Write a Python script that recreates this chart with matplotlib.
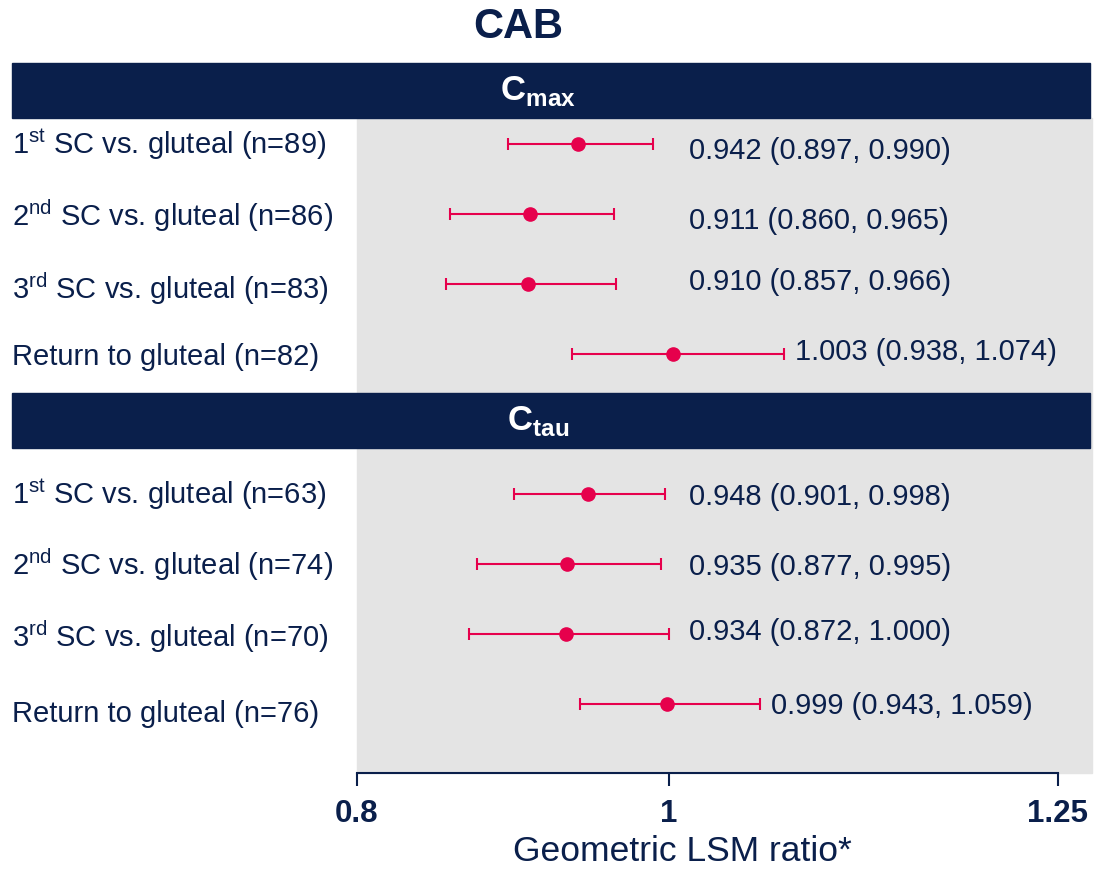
import matplotlib.pyplot as plt
from matplotlib.patches import Rectangle
from matplotlib.transforms import blended_transform_factory

plt.rcParams['font.family'] = ['Liberation Sans', 'DejaVu Sans']
plt.rcParams['mathtext.fontset'] = 'custom'
plt.rcParams['mathtext.rm'] = 'Liberation Sans'
plt.rcParams['mathtext.bf'] = 'Liberation Sans:bold'

# geometric LSM ratios with 90% CI, per comparison
cmax_labels = [r'1$^{\mathrm{st}}$ SC vs. gluteal (n=89)',
               r'2$^{\mathrm{nd}}$ SC vs. gluteal (n=86)',
               r'3$^{\mathrm{rd}}$ SC vs. gluteal (n=83)',
               'Return to gluteal (n=82)']
cmax_ratio = [0.942, 0.911, 0.910, 1.003]
cmax_low = [0.897, 0.860, 0.857, 0.938]
cmax_high = [0.990, 0.965, 0.966, 1.074]

ctau_labels = [r'1$^{\mathrm{st}}$ SC vs. gluteal (n=63)',
               r'2$^{\mathrm{nd}}$ SC vs. gluteal (n=74)',
               r'3$^{\mathrm{rd}}$ SC vs. gluteal (n=70)',
               'Return to gluteal (n=76)']
ctau_ratio = [0.948, 0.935, 0.934, 0.999]
ctau_low = [0.901, 0.877, 0.872, 0.943]
ctau_high = [0.998, 0.995, 1.000, 1.059]

x_ticks = [0.8, 1, 1.25]
x_ticklabels = ['0.8', '1', '1.25']

navy = '#0A1F4B'
red = '#E6004C'
grey = '#E4E4E4'

W, H = 1094, 869
fig = plt.figure(figsize=(W / 100, H / 100), dpi=100)
ax = fig.add_axes([357 / W, 1 - 773 / H, 701 / W, 655 / H])
ax.set_xlim(0.8, 1.25)
ax.set_ylim(8.986, -0.371)
ax.set_facecolor('none')
ax.add_patch(Rectangle((0, 0), (1092 - 357) / 701, 1, transform=ax.transAxes,
                       color=grey, clip_on=False, zorder=0))

# rows 0-3 for Cmax, 5-8 for Ctau (row 4 sits under the second header)
rows = [0, 1, 2, 3, 5, 6, 7, 8]
labels = cmax_labels + ctau_labels
ratio = cmax_ratio + ctau_ratio
low = cmax_low + ctau_low
high = cmax_high + ctau_high

# small nudges so the text sits where it was typeset
label_dy = [0, 0.03, 0.07, 0.04, 0, 0.01, 0.04, 0.14]
value_dy = [0.1, 0.1, -0.03, -0.03, 0.04, 0.04, -0.03, 0.03]

err = [[r - lo for r, lo in zip(ratio, low)], [hi - r for r, hi in zip(ratio, high)]]
ax.errorbar(ratio, rows, xerr=err, fmt='o', color=red, ecolor=red,
            markersize=9.5, elinewidth=1.5, capsize=4.5, capthick=1.5, zorder=3)

lab_tr = blended_transform_factory(fig.transFigure, ax.transData)
for r, lab, dy in zip(rows, labels, label_dy):
    ax.text(12 / W, r + dy, lab, transform=lab_tr, ha='left', va='center',
            fontsize=21, color=navy)

for r, m, lo, hi, dy in zip(rows, ratio, low, high, value_dy):
    ax.text(max(hi + 0.007, 1.013), r + dy, f'{m:.3f} ({lo:.3f}, {hi:.3f})',
            ha='left', va='center', fontsize=21, color=navy)

for s in ['left', 'right', 'top']:
    ax.spines[s].set_visible(False)
ax.spines['bottom'].set_color(navy)
ax.spines['bottom'].set_linewidth(1.5)
ax.set_yticks([])
ax.set_xticks(x_ticks)
ax.set_xticklabels(x_ticklabels, fontsize=22.5, fontweight='bold', color=navy)
ax.tick_params(axis='x', length=9, width=1.5, color=navy, pad=10)
ax.set_xlabel('Geometric LSM ratio*', fontsize=25.5, color=navy, labelpad=4)
ax.xaxis.label.set_x((682 - 357) / 701)

# section header bars
for top, name in [(63, r'$\mathbf{C}_{\mathbf{max}}$'), (393, r'$\mathbf{C}_{\mathbf{tau}}$')]:
    fig.patches.append(Rectangle((12 / W, 1 - (top + 55) / H), 1078 / W, 55 / H,
                                 transform=fig.transFigure, color=navy))
    fig.text(538 / W, 1 - (top + 28) / H, name, ha='center', va='center',
             fontsize=25, color='white')

fig.text(518 / W, 1 - 27 / H, 'CAB', ha='center', va='center',
         fontsize=30, fontweight='bold', color=navy)

fig.savefig('out.png', dpi=100)
